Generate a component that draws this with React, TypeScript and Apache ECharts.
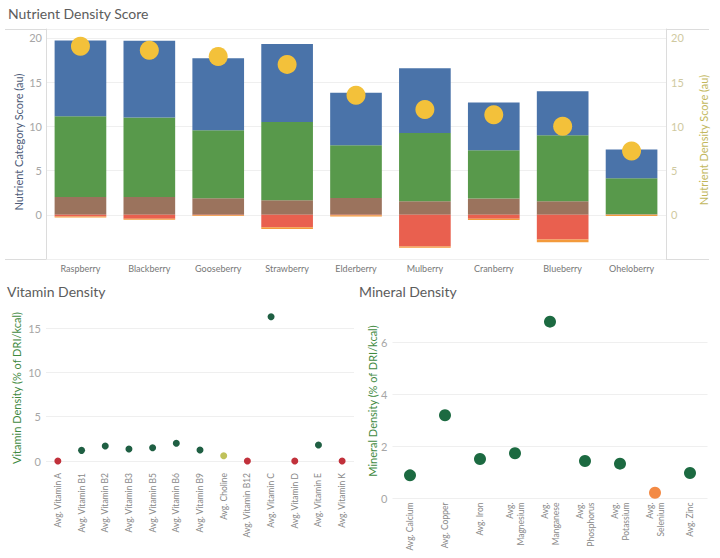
import React, { useEffect, useRef } from "react";
import * as echarts from "echarts";

// Berry nutrient profile
const berries = [
  "Raspberry",
  "Blackberry",
  "Gooseberry",
  "Strawberry",
  "Elderberry",
  "Mulberry",
  "Cranberry",
  "Blueberry",
  "Oheloberry",
];
const vitaminScore = [8.55, 8.66, 8.15, 8.8, 5.93, 7.3, 5.4, 4.97, 3.26];
const mineralScore = [9.15, 9.0, 7.68, 8.85, 5.97, 7.71, 5.47, 7.46, 4.07];
const fiberScore = [2.0, 2.0, 1.87, 1.65, 1.9, 1.54, 1.83, 1.54, 0.05];
const sugarPenalty = [-0.2, -0.45, -0.05, -1.4, -0.05, -3.6, -0.45, -2.8, 0];
const fatPenalty = [-0.12, -0.12, -0.1, -0.2, -0.15, -0.12, -0.15, -0.3, -0.15];
const densityScore = [19.05, 18.6, 17.9, 17.0, 13.5, 11.9, 11.3, 10.0, 7.2];

const vitaminNames = [
  "Avg. Vitamin A",
  "Avg. Vitamin B1",
  "Avg. Vitamin B2",
  "Avg. Vitamin B3",
  "Avg. Vitamin B5",
  "Avg. Vitamin B6",
  "Avg. Vitamin B9",
  "Avg. Choline",
  "Avg. Vitamin B12",
  "Avg. Vitamin C",
  "Avg. Vitamin D",
  "Avg. Vitamin E",
  "Avg. Vitamin K",
];
const vitaminDensity = [0, 1.2, 1.7, 1.36, 1.5, 2.0, 1.24, 0.6, 0, 16.27, 0, 1.8, 0];

const mineralNames = [
  "Avg. Calcium",
  "Avg. Copper",
  "Avg. Iron",
  "Avg.\nMagnesium",
  "Avg.\nManganese",
  "Avg.\nPhosphorus",
  "Avg.\nPotassium",
  "Avg.\nSelenium",
  "Avg. Zinc",
];
const mineralDensity = [0.89, 3.2, 1.52, 1.74, 6.8, 1.44, 1.34, 0.22, 0.98];

const FONT = "Lato, 'Open Sans', sans-serif";
const TICK = "#a6a6a6";
const GRID = "#efefef";

function vitaminColor(v: number) {
  if (v === 0) return "#c1313b";
  if (v < 1) return "#bfc15a";
  return "#1f5f43";
}
function mineralColor(v: number) {
  if (v < 0.5) return "#f38a45";
  return "#1c6a41";
}

export default function App() {
  const ref = useRef<HTMLDivElement>(null);

  useEffect(() => {
    if (!ref.current) return;
    const chart = echarts.init(ref.current, null, { renderer: "svg" });

    const stackBar = (name: string, data: number[], color: string) => ({
      name,
      type: "bar",
      stack: "score",
      xAxisIndex: 0,
      yAxisIndex: 0,
      barWidth: "75%",
      data,
      itemStyle: { color },
    });

    const option: any = {
      animation: false,
      backgroundColor: "#ffffff",
      textStyle: { fontFamily: FONT },
      grid: [
        { left: 46, right: 54, top: 29, height: 230 },
        { left: 46, right: 366, top: 305, height: 156 },
        { left: 392.5, right: 12.5, top: 305, height: 193.5 },
      ],
      xAxis: [
        {
          type: "category",
          gridIndex: 0,
          data: berries,
          axisLine: { show: false },
          axisTick: { show: false },
          axisLabel: { color: "#777", fontSize: 9, margin: 5, fontFamily: FONT },
        },
        {
          type: "category",
          gridIndex: 1,
          data: vitaminNames,
          axisLine: { show: false },
          axisTick: { show: false },
          axisLabel: {
            color: "#888",
            fontSize: 8.5,
            rotate: 90,
            margin: 12,
            interval: 0,
            fontFamily: FONT,
          },
        },
        {
          type: "category",
          gridIndex: 2,
          data: mineralNames,
          axisLine: { show: false },
          axisTick: { show: false },
          axisLabel: {
            color: "#888",
            fontSize: 8.5,
            rotate: 90,
            margin: 4,
            interval: 0,
            lineHeight: 11,
            fontFamily: FONT,
          },
        },
      ],
      yAxis: [
        {
          type: "value",
          gridIndex: 0,
          min: -5,
          max: 21,
          interval: 5,
          axisLine: { show: true, lineStyle: { color: "#dcdcdc" } },
          axisTick: { show: false },
          splitLine: { lineStyle: { color: GRID } },
          axisLabel: {
            color: TICK,
            fontSize: 11,
            margin: 4,
            fontFamily: FONT,
            formatter: (v: number) => (v >= 0 && v <= 20 && v % 5 === 0 ? String(v) : ""),
          },
        },
        {
          type: "value",
          gridIndex: 0,
          position: "right",
          min: -5,
          max: 21,
          interval: 5,
          axisLine: { show: true, lineStyle: { color: "#dcdcdc" } },
          axisTick: { show: false },
          splitLine: { show: false },
          axisLabel: {
            color: "#cfc9a0",
            fontSize: 11,
            margin: 5,
            fontFamily: FONT,
            formatter: (v: number) => (v >= 0 && v <= 20 && v % 5 === 0 ? String(v) : ""),
          },
        },
        {
          type: "value",
          gridIndex: 1,
          min: 0,
          max: 17.6,
          interval: 5,
          axisLine: { show: false },
          axisTick: { show: false },
          splitLine: { lineStyle: { color: GRID }, showMaxLine: false },
          axisLabel: {
            color: TICK,
            fontSize: 11,
            margin: 5,
            fontFamily: FONT,
            formatter: (v: number) => (v % 5 === 0 ? String(v) : ""),
          },
        },
        {
          type: "value",
          gridIndex: 2,
          min: 0,
          max: 7.44,
          interval: 2,
          axisLine: { show: false },
          axisTick: { show: false },
          splitLine: { lineStyle: { color: GRID }, showMaxLine: false },
          axisLabel: {
            color: TICK,
            fontSize: 11,
            margin: 5,
            fontFamily: FONT,
            formatter: (v: number) => (v % 2 === 0 ? String(v) : ""),
          },
        },
      ],
      series: [
        stackBar("Fiber & Protein", fiberScore, "#9b735d"),
        stackBar("Minerals", mineralScore, "#58994b"),
        stackBar("Vitamins", vitaminScore, "#4a73a9"),
        stackBar("Sugar", sugarPenalty, "#e9604f"),
        stackBar("Saturated Fat", fatPenalty, "#f39a3c"),
        {
          name: "Nutrient Density Score",
          type: "scatter",
          xAxisIndex: 0,
          yAxisIndex: 1,
          symbolSize: 19,
          data: densityScore,
          itemStyle: { color: "#f3c13a", opacity: 1 },
          z: 5,
        },
        {
          name: "Vitamin Density",
          type: "scatter",
          xAxisIndex: 1,
          yAxisIndex: 2,
          symbolSize: 7,
          clip: false,
          data: vitaminDensity.map((v) => ({
            value: v,
            itemStyle: { color: vitaminColor(v), opacity: 1 },
          })),
        },
        {
          name: "Mineral Density",
          type: "scatter",
          xAxisIndex: 2,
          yAxisIndex: 3,
          symbolSize: 12,
          clip: false,
          data: mineralDensity.map((v) => ({
            value: v,
            itemStyle: { color: mineralColor(v), opacity: 1 },
          })),
        },
      ],
      graphic: [
        {
          type: "line",
          shape: { x1: 5, y1: 29.5, x2: 709, y2: 29.5 },
          style: { stroke: "#dcdcdc", lineWidth: 1 },
        },
        {
          type: "line",
          shape: { x1: 5, y1: 259.5, x2: 709, y2: 259.5 },
          style: { stroke: "#dcdcdc", lineWidth: 1 },
        },
        {
          type: "text",
          left: 8,
          top: 6,
          style: { text: "Nutrient Density Score", fill: "#5c5c5c", fontSize: 14, fontFamily: FONT },
        },
        {
          type: "text",
          left: 7,
          top: 284,
          style: { text: "Vitamin Density", fill: "#5c5c5c", fontSize: 14, fontFamily: FONT },
        },
        {
          type: "text",
          left: 359,
          top: 284,
          style: { text: "Mineral Density", fill: "#5c5c5c", fontSize: 14, fontFamily: FONT },
        },
        {
          type: "text",
          x: 18,
          y: 142,
          rotation: Math.PI / 2,
          style: {
            text: "Nutrient Category Score (au)",
            fill: "#4d5b78",
            fontSize: 11,
            fontFamily: FONT,
            align: "center",
            verticalAlign: "middle",
          },
        },
        {
          type: "text",
          x: 703,
          y: 140,
          rotation: Math.PI / 2,
          style: {
            text: "Nutrient Density Score (au)",
            fill: "#c2b75c",
            fontSize: 11,
            fontFamily: FONT,
            align: "center",
            verticalAlign: "middle",
          },
        },
        {
          type: "text",
          x: 16,
          y: 388,
          rotation: Math.PI / 2,
          style: {
            text: "Vitamin Density (% of DRI/kcal)",
            fill: "#3f8a3f",
            fontSize: 11,
            fontFamily: FONT,
            align: "center",
            verticalAlign: "middle",
          },
        },
        {
          type: "text",
          x: 372,
          y: 401,
          rotation: Math.PI / 2,
          style: {
            text: "Mineral Density (% of DRI/kcal)",
            fill: "#3f8a3f",
            fontSize: 11,
            fontFamily: FONT,
            align: "center",
            verticalAlign: "middle",
          },
        },
      ],
    };

    chart.setOption(option);
    return () => chart.dispose();
  }, []);

  return (
    <div
      ref={ref}
      style={{ position: "fixed", left: 0, top: 0, width: 720, height: 558, background: "#fff" }}
    />
  );
}
